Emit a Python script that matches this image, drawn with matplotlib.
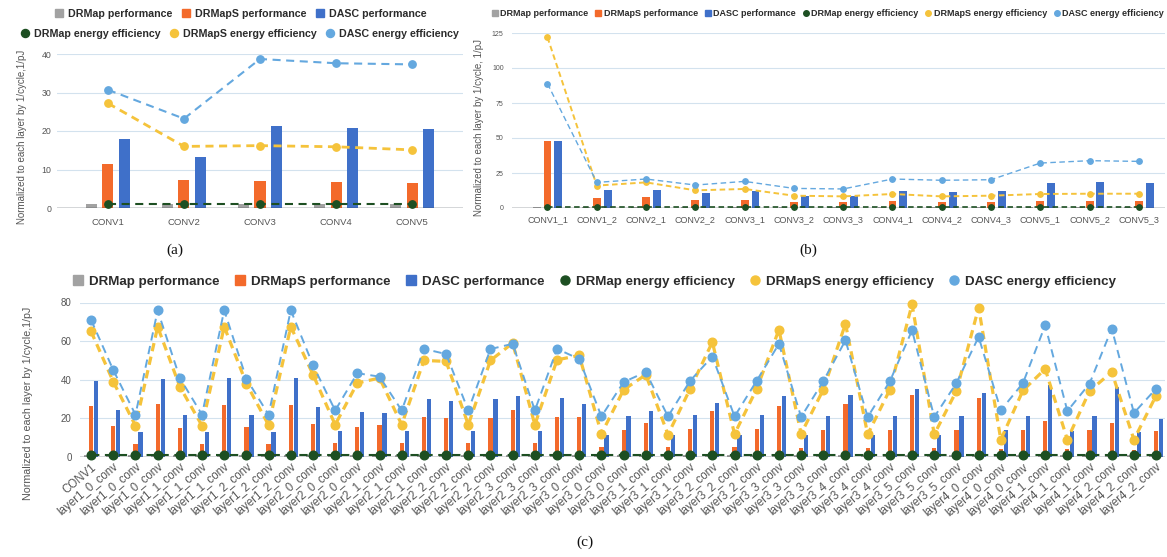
import matplotlib.pyplot as plt
from matplotlib.lines import Line2D
import numpy as np

plt.rcParams['font.family'] = ['Liberation Sans', 'DejaVu Sans']

# ---------------- data: (a) ----------------
cats_a = ["CONV1", "CONV2", "CONV3", "CONV4", "CONV5"]
drmap_perf_a = [1.0, 1.0, 1.0, 1.0, 1.0]
drmaps_perf_a = [11.5, 7.2, 6.9, 6.7, 6.5]
dasc_perf_a = [18.0, 13.3, 21.3, 20.7, 20.5]
drmap_ee_a = [1.0, 1.0, 1.0, 1.0, 1.0]
drmaps_ee_a = [27.2, 16.0, 16.2, 15.9, 15.1]
dasc_ee_a = [30.7, 23.2, 38.7, 37.6, 37.3]

# ---------------- data: (b) ----------------
cats_b = ["CONV1_1", "CONV1_2", "CONV2_1", "CONV2_2", "CONV3_1", "CONV3_2", "CONV3_3",
          "CONV4_1", "CONV4_2", "CONV4_3", "CONV5_1", "CONV5_2", "CONV5_3"]
drmap_perf_b = [1.0, 1.0, 1.0, 1.0, 1.0, 1.0, 1.0, 1.0, 1.0, 1.0, 1.0, 1.0, 1.0]
drmaps_perf_b = [48.1, 7.1, 7.9, 6.0, 6.0, 4.0, 4.0, 4.8, 4.0, 4.0, 4.8, 4.8, 4.8]
dasc_perf_b = [48.1, 12.6, 13.1, 10.7, 11.9, 8.3, 8.3, 11.9, 11.4, 11.9, 17.9, 18.6, 17.9]
drmap_ee_b = [1.0, 1.0, 1.0, 1.0, 1.0, 1.0, 1.0, 1.0, 1.0, 1.0, 1.0, 1.0, 1.0]
drmaps_ee_b = [121.9, 16.0, 18.3, 12.6, 13.6, 8.8, 8.3, 10.0, 8.3, 8.8, 10.0, 10.2, 10.2]
dasc_ee_b = [88.8, 18.3, 20.7, 16.4, 19.0, 14.0, 13.6, 20.7, 19.8, 20.2, 32.1, 33.8, 33.3]

# ---------------- data: (c) ----------------
cats_c = ["CONV1",
          "layer1_0_conv", "layer1_0_conv", "layer1_0_conv",
          "layer1_1_conv", "layer1_1_conv", "layer1_1_conv",
          "layer1_2_conv", "layer1_2_conv", "layer1_2_conv",
          "layer2_0_conv", "layer2_0_conv", "layer2_0_conv",
          "layer2_1_conv", "layer2_1_conv", "layer2_1_conv",
          "layer2_2_conv", "layer2_2_conv", "layer2_2_conv",
          "layer2_3_conv", "layer2_3_conv", "layer2_3_conv",
          "layer3_0_conv", "layer3_0_conv", "layer3_0_conv",
          "layer3_1_conv", "layer3_1_conv", "layer3_1_conv",
          "layer3_2_conv", "layer3_2_conv", "layer3_2_conv",
          "layer3_3_conv", "layer3_3_conv", "layer3_3_conv",
          "layer3_4_conv", "layer3_4_conv", "layer3_4_conv",
          "layer3_5_conv", "layer3_5_conv", "layer3_5_conv",
          "layer4_0_conv", "layer4_0_conv", "layer4_0_conv",
          "layer4_1_conv", "layer4_1_conv", "layer4_1_conv",
          "layer4_2_conv", "layer4_2_conv", "layer4_2_conv"]
drmap_perf_c = [1.0, 1.0, 1.0, 1.0, 1.0, 1.0, 1.0, 1.0, 1.0, 1.0, 1.0, 1.0, 1.0, 1.0, 1.0, 1.0, 1.0,
                1.0, 1.0, 1.0, 1.0, 1.0, 1.0, 1.0, 1.0, 1.0, 1.0, 1.0, 1.0, 1.0, 1.0, 1.0, 1.0, 1.0,
                1.0, 1.0, 1.0, 1.0, 1.0, 1.0, 1.0, 1.0, 1.0, 1.0, 1.0, 1.0, 1.0, 1.0, 1.0]
drmaps_perf_c = [26.5, 15.9, 6.9, 27.2, 15.0, 6.9, 27.0, 15.5, 6.9, 27.0,
                 17.3, 7.2, 15.5, 16.7, 7.2, 20.5, 20.2, 7.2, 20.2, 24.1, 7.2, 20.5,
                 20.7, 5.0, 14.1, 17.8, 5.0, 14.7, 24.0, 5.0, 14.7, 26.6, 4.8, 14.2,
                 27.6, 4.8, 14.2, 32.0, 4.8, 13.8,
                 30.7, 4.0, 13.8, 18.5, 4.0, 13.8, 17.6, 3.5, 13.3]
dasc_perf_c = [39.3, 24.5, 12.8, 40.5, 22.0, 13.0, 40.7, 22.0, 13.0, 40.7,
               26.0, 13.3, 23.4, 22.8, 13.3, 30.2, 29.1, 13.3, 30.2, 31.7, 13.3, 30.5,
               27.2, 11.6, 21.0, 24.0, 11.6, 21.6, 28.1, 11.6, 21.6, 31.7, 11.6, 21.2,
               32.3, 11.6, 21.2, 35.4, 11.6, 21.0,
               33.3, 13.8, 21.0, 37.1, 13.3, 21.0, 36.1, 13.0, 19.5]
drmap_ee_c = [1.0, 1.0, 1.0, 1.0, 1.0, 1.0, 1.0, 1.0, 1.0, 1.0, 1.0, 1.0, 1.0, 1.0, 1.0, 1.0, 1.0,
              1.0, 1.0, 1.0, 1.0, 1.0, 1.0, 1.0, 1.0, 1.0, 1.0, 1.0, 1.0, 1.0, 1.0, 1.0, 1.0, 1.0,
              1.0, 1.0, 1.0, 1.0, 1.0, 1.0, 1.0, 1.0, 1.0, 1.0, 1.0, 1.0, 1.0, 1.0, 1.0]
drmaps_ee_c = [65.0, 39.0, 16.2, 67.4, 36.4, 16.2, 67.5, 38.0, 16.5, 67.5,
               42.7, 16.7, 38.3, 40.9, 16.7, 50.0, 49.5, 16.7, 50.0, 59.0, 16.7, 50.3,
               52.6, 12.0, 34.8, 42.6, 11.6, 35.3, 59.5, 11.9, 35.3, 65.9, 12.0, 34.9,
               69.0, 11.7, 34.9, 79.1, 11.7, 34.2,
               77.4, 9.0, 34.5, 45.6, 9.0, 34.2, 44.0, 9.0, 31.8]
dasc_ee_c = [71.0, 45.0, 21.9, 75.9, 40.9, 21.9, 76.0, 40.5, 21.9, 76.0,
             47.6, 24.1, 43.4, 41.6, 24.1, 56.0, 53.3, 24.1, 55.9, 58.6, 24.1, 56.0,
             50.7, 21.0, 38.8, 44.0, 21.0, 39.5, 52.0, 21.0, 39.5, 58.6, 20.7, 39.3,
             60.4, 20.7, 39.2, 65.6, 20.7, 38.3,
             62.2, 24.2, 38.3, 68.2, 23.8, 38.0, 66.5, 22.8, 35.4]

series_names = ["DRMap performance", "DRMapS performance", "DASC performance",
                "DRMap energy efficiency", "DRMapS energy efficiency", "DASC energy efficiency"]

GRAY = '#a2a2a2'
ORANGE = '#f36a2b'
BLUE = '#3f70c9'
GREEN = '#1d4f22'
YELLOW = '#f5c33b'
LBLUE = '#64a8df'
GRID = '#d3e2ee'
TXT = '#555555'

W, H = 1167, 557
fig = plt.figure(figsize=(W / 100, H / 100), dpi=100)


def box(left, top, right, bottom):
    return [left / W, 1 - bottom / H, (right - left) / W, (bottom - top) / H]


def panel(ax, cats, perf, ee, ymax, ystep, xlim, bw, off, ms, lws, dash, fs_y):
    x = np.arange(len(cats))
    ax.bar(x - off, perf[0], bw, color=GRAY, zorder=2)
    ax.bar(x, perf[1], bw, color=ORANGE, zorder=2)
    ax.bar(x + off, perf[2], bw, color=BLUE, zorder=2)
    ax.axhline(0, color='#3a3f44', lw=1.0, zorder=2.5)
    for vals, col, lw in zip(ee, [GREEN, YELLOW, LBLUE], lws):
        ax.plot(x, vals, color=col, lw=lw, ls=(0, (dash[0] / lw, dash[1] / lw)),
                marker='o', ms=ms, mec=col, mfc=col, zorder=3, clip_on=False)
    ax.set_xlim(*xlim)
    ax.set_ylim(0, ymax)
    ax.set_yticks(np.arange(0, ymax + 1, ystep))
    ax.grid(axis='y', color=GRID, lw=0.8, zorder=0)
    ax.set_axisbelow(True)
    for s in ax.spines.values():
        s.set_visible(False)
    ax.tick_params(length=0, colors=TXT, labelsize=fs_y)
    ax.set_xticks(x)


def legend(handles, labels, cx, cy, fs, hl, htp, cs, ncol):
    fig.legend(handles, labels, loc='center', bbox_to_anchor=(cx / W, 1 - cy / H), ncol=ncol,
               frameon=False, prop={'weight': 'bold', 'size': fs}, labelcolor='#2b2b2b',
               handlelength=hl, handletextpad=htp, columnspacing=cs, borderpad=0, borderaxespad=0)


def handles(ms):
    hs = [Line2D([], [], ls='none', marker='s', ms=ms, color=c) for c in [GRAY, ORANGE, BLUE]]
    hs += [Line2D([], [], ls='none', marker='o', ms=ms, color=c) for c in [GREEN, YELLOW, LBLUE]]
    return hs


# ---------------- (a) ----------------
ax_a = fig.add_axes(box(57, 54, 463, 208))
panel(ax_a, cats_a, [drmap_perf_a, drmaps_perf_a, dasc_perf_a],
      [drmap_ee_a, drmaps_ee_a, dasc_ee_a], 40, 10, (-0.67, 4.67),
      0.145, 0.22, 5.3, [1.5, 2.0, 1.5], (5.8, 4.0), 6.3)
ax_a.set_xticklabels(cats_a, fontsize=6.8)
ax_a.tick_params(axis='x', pad=7)
ax_a.tick_params(axis='y', pad=4)
hs = handles(5.8)
legend(hs[:3], series_names[:3], 241, 14, 7.7, 0.75, 0.45, 0.9, 3)
legend(hs[3:], series_names[3:], 240, 34, 7.7, 0.75, 0.45, 0.9, 3)
fig.text(22 / W, 1 - 137 / H, "Normalized to each layer by 1/cycle,1/pJ", rotation=90,
         ha='center', va='center', fontsize=7, color=TXT)

# ---------------- (b) ----------------
ax_b = fig.add_axes(box(512, 33, 1165, 208))
panel(ax_b, cats_b, [drmap_perf_b, drmaps_perf_b, dasc_perf_b],
      [drmap_ee_b, drmaps_ee_b, dasc_ee_b], 125, 25, (-0.72, 12.53),
      0.16, 0.22, 3.9, [1.2, 1.4, 1.0], (4.0, 2.5), 5.0)
ax_b.set_xticklabels(cats_b, fontsize=6.5)
ax_b.tick_params(axis='x', pad=5)
ax_b.tick_params(axis='y', pad=6)
legend(handles(4.0), series_names, 828, 14, 6.5, 0.62, 0.28, 0.8, 6)
fig.text(479 / W, 1 - 127 / H, "Normalized to each layer by 1/cycle, 1/pJ", rotation=90,
         ha='center', va='center', fontsize=7, color=TXT)

# ---------------- (c) ----------------
ax_c = fig.add_axes(box(80, 302.5, 1165, 457))
panel(ax_c, cats_c, [drmap_perf_c, drmaps_perf_c, dasc_perf_c],
      [drmap_ee_c, drmaps_ee_c, dasc_ee_c], 80, 20, (-0.5, 48.4),
      0.19, 0.225, 6.2, [1.5, 2.3, 1.4], (6.0, 4.0), 7.0)
ax_c.set_xticklabels(cats_c, fontsize=8.3, rotation=40, ha='right', rotation_mode='anchor')
ax_c.tick_params(axis='x', pad=3)
ax_c.tick_params(axis='y', pad=6)
legend(handles(6.5), series_names, 595, 282, 9.6, 0.65, 0.5, 1.2, 6)
fig.text(28 / W, 1 - 403 / H, "Normalized to each layer by 1/cycle,1/pJ", rotation=90,
         ha='center', va='center', fontsize=7.7, color=TXT)

# ---------------- captions ----------------
for lab, cx, cy in [("(a)", 175, 250), ("(b)", 808, 250), ("(c)", 585, 542)]:
    fig.text(cx / W, 1 - cy / H, lab, ha='center', va='center', fontsize=11,
             family='Liberation Serif', color='#111111')

fig.savefig("out.png", dpi=100)
